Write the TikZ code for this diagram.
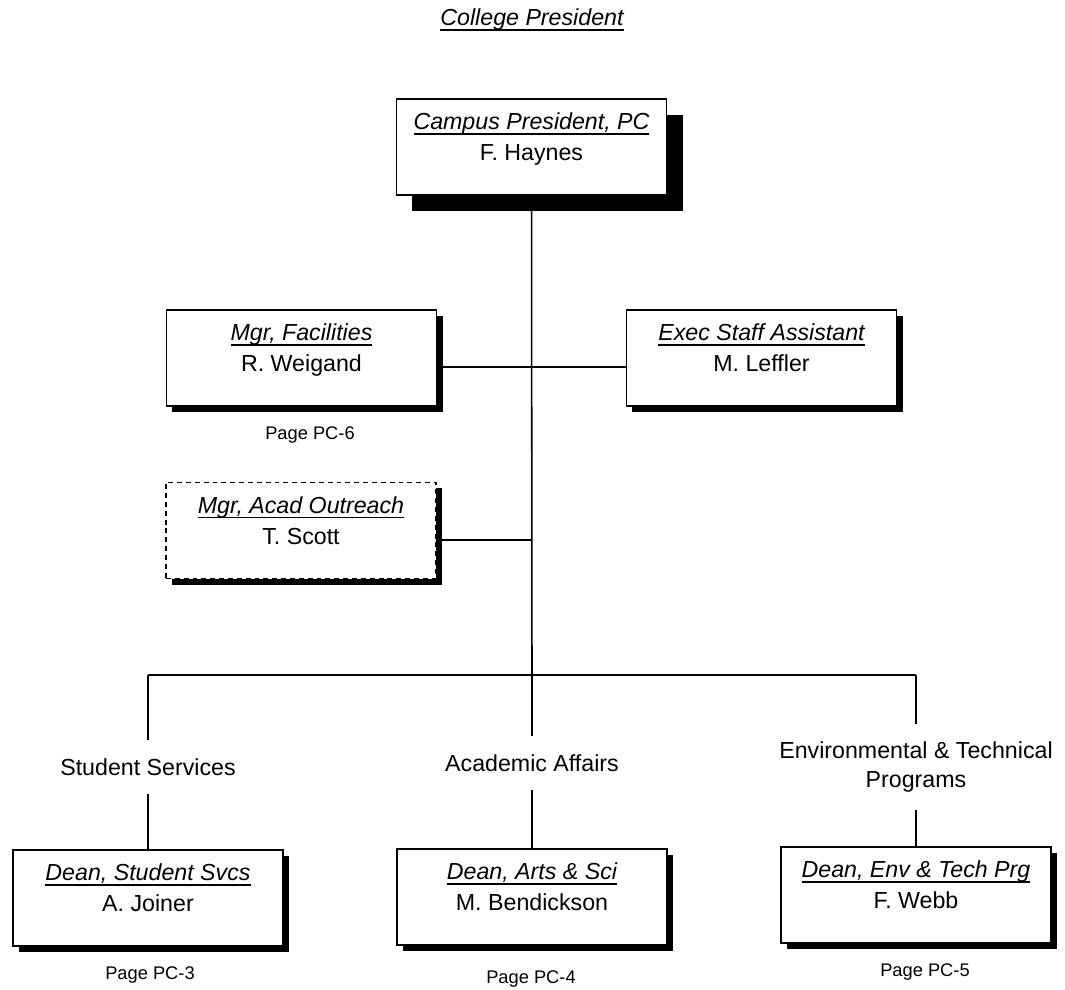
\documentclass[tikz,border=0pt]{standalone}
\usepackage{fontspec}
\setmainfont{Liberation Sans}
\usetikzlibrary{shadows}

% italic title with a heavy underline
\newcommand{\roletitle}[1]{\setbox0=\hbox{\itshape #1}\rlap{\rule[-3.5pt]{\wd0}{1.1pt}}\box0}

\begin{document}
\begin{tikzpicture}[x=0.025cm,y=-0.025cm,
  every node/.style={font=\fontsize{16.5}{22}\selectfont},
  box/.style={draw,line width=1.3pt,fill=white,align=center,inner sep=0pt,
    minimum width=6.75cm,minimum height=2.4cm,text depth=0.5cm,
    drop shadow={shadow xshift=#1,shadow yshift=-#1,fill=black,opacity=1}},
  box/.default=0.15cm,
  vacant/.style={dash pattern=on 3.5pt off 2.8pt},
  unit/.style={align=center,inner xsep=0pt,inner ysep=0.45cm,font=\fontsize{16.5}{20}\selectfont},
  pagelbl/.style={font=\fontsize{13}{15}\selectfont},
  link/.style={line width=1.1pt}]
\useasboundingbox (0,0) rectangle (1065,990);

% top of the chart
\node (cpres) at (532,20) {\roletitle{College President}};
\node[box=0.4cm] (cp) at (531.5,147) {\roletitle{Campus President, PC}\\F. Haynes};

% staff reporting to the campus president
\node[box] (fac) at (301.5,358) {\roletitle{Mgr, Facilities}\\R. Weigand};
\node[pagelbl] (pg6) at (310,435) {Page PC-6};
\node[box] (esa) at (761.5,358) {\roletitle{Exec Staff Assistant}\\M. Leffler};
\node[box,vacant] (mao) at (301,530.5) {\roletitle{Mgr, Acad Outreach}\\T. Scott};

% the three divisions
\node[unit] (ss) at (148,767) {Student Services};
\node[unit] (aa) at (532,763) {Academic Affairs};
\node[unit] (etp) at (916,767) {Environmental \& Technical\\Programs};

\node[box] (dss) at (148,898) {\roletitle{Dean, Student Svcs}\\A. Joiner};
\node[box] (das) at (532,897) {\roletitle{Dean, Arts \& Sci}\\M. Bendickson};
\node[box] (det) at (916,895) {\roletitle{Dean, Env \& Tech Prg}\\F. Webb};
\node[pagelbl] (pg3) at (150,975) {Page PC-3};
\node[pagelbl] (pg4) at (531,979) {Page PC-4};
\node[pagelbl] (pg5) at (925,972) {Page PC-5};

% connectors
\coordinate (hub) at (532,675);
\coordinate (barL) at (148,675);
\coordinate (barR) at (916,675);
\coordinate (jfac) at (532,367);
\coordinate (jmao) at (532,540);
\draw[link] (cp.south) -- (hub);
\draw[link] (fac.east |- jfac) -- (jfac) -- (esa.west |- jfac);
\draw[link] (mao.east |- jmao) -- (jmao);
\draw[link] (barL) -- (barR);
\draw[link] (barL) -- (ss.north);
\draw[link] (hub) -- (aa.north);
\draw[link] (barR) -- (etp.north);
\draw[link] (ss.south) -- (dss.north);
\draw[link] (aa.south) -- (das.north);
\draw[link] (etp.south) -- (det.north);
\end{tikzpicture}
\end{document}
